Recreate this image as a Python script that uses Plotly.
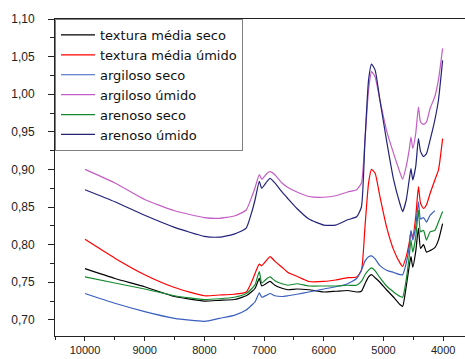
import plotly.graph_objects as go

wavenumber = [10000, 9500, 9000, 8500, 8000, 7750, 7500, 7300, 7200, 7150, 7080, 7040, 6950, 6900, 6820,
              6700, 6600, 6450, 6250, 6000, 5800, 5600, 5450, 5370, 5310, 5250, 5200, 5140, 5060, 4950,
              4830, 4720, 4680, 4620, 4570, 4540, 4510, 4460, 4415, 4380, 4330, 4280, 4220, 4140, 4080, 4010]

textura_media_seco = [0.768, 0.755, 0.744, 0.731, 0.725, 0.726, 0.727, 0.732, 0.738, 0.742, 0.755, 0.745, 0.749, 0.751, 0.746,
                      0.742, 0.740, 0.741, 0.740, 0.737, 0.738, 0.739, 0.737, 0.738, 0.748, 0.757, 0.760, 0.756, 0.750, 0.740,
                      0.730, 0.720, 0.718, 0.744, 0.771, 0.784, 0.770, 0.791, 0.822, 0.795, 0.800, 0.790, 0.792, 0.796, 0.806, 0.828]

textura_media_umido = [0.807, 0.782, 0.760, 0.743, 0.732, 0.733, 0.734, 0.737, 0.752, 0.762, 0.774, 0.772, 0.780, 0.784, 0.778,
                       0.770, 0.763, 0.758, 0.751, 0.751, 0.753, 0.756, 0.757, 0.766, 0.824, 0.882, 0.900, 0.895, 0.864, 0.824,
                       0.793, 0.775, 0.771, 0.784, 0.802, 0.817, 0.810, 0.837, 0.877, 0.855, 0.848, 0.853, 0.868, 0.886, 0.899, 0.941]

argiloso_seco = [0.735, 0.722, 0.711, 0.702, 0.698, 0.702, 0.706, 0.713, 0.720, 0.724, 0.736, 0.730, 0.733, 0.735, 0.732,
                 0.731, 0.732, 0.734, 0.737, 0.741, 0.744, 0.748, 0.755, 0.766, 0.778, 0.784, 0.785, 0.781, 0.772, 0.766,
                 0.763, 0.760, 0.760, 0.775, 0.797, 0.819, 0.806, 0.824, 0.857, 0.834, 0.836, 0.830, 0.839, 0.845, None, None]

argiloso_umido = [0.900, 0.882, 0.860, 0.845, 0.836, 0.835, 0.838, 0.846, 0.865, 0.876, 0.893, 0.887, 0.895, 0.897, 0.893,
                  0.882, 0.876, 0.870, 0.864, 0.863, 0.865, 0.870, 0.873, 0.882, 0.939, 1.006, 1.030, 1.023, 0.992, 0.952,
                  0.921, 0.895, 0.887, 0.904, 0.926, 0.943, 0.928, 0.948, 0.983, 0.963, 0.960, 0.963, 0.981, 0.997, 1.019, 1.061]

arenoso_seco = [0.757, 0.749, 0.741, 0.732, 0.727, 0.728, 0.730, 0.735, 0.742, 0.747, 0.764, 0.749, 0.755, 0.757, 0.752,
                0.748, 0.746, 0.748, 0.745, 0.745, 0.745, 0.746, 0.746, 0.751, 0.760, 0.766, 0.769, 0.765, 0.756, 0.745,
                0.737, 0.731, 0.730, 0.753, 0.784, 0.806, 0.790, 0.810, 0.846, 0.817, 0.819, 0.806, 0.817, 0.819, 0.830, 0.844]

arenoso_umido = [0.873, 0.857, 0.839, 0.823, 0.811, 0.810, 0.814, 0.822, 0.845, 0.860, 0.884, 0.875, 0.884, 0.888, 0.882,
                 0.870, 0.861, 0.848, 0.834, 0.826, 0.826, 0.833, 0.837, 0.850, 0.939, 1.019, 1.040, 1.032, 0.992, 0.939,
                 0.886, 0.853, 0.844, 0.859, 0.886, 0.901, 0.886, 0.904, 0.941, 0.924, 0.917, 0.921, 0.939, 0.966, 0.992, 1.045]

series_names = ["textura média seco", "textura média úmido", "argiloso seco",
                "argiloso úmido", "arenoso seco", "arenoso úmido"]
series_values = [textura_media_seco, textura_media_umido, argiloso_seco,
                 argiloso_umido, arenoso_seco, arenoso_umido]
series_colors = ["#000000", "#ff0000", "#3a5fbf", "#c45ec4", "#138a2e", "#23237a"]

x_tickvals = [10000, 9000, 8000, 7000, 6000, 5000, 4000]
x_ticktext = ["10000", "9000", "8000", "7000", "6000", "5000", "4000"]
y_tickvals = [0.70, 0.75, 0.80, 0.85, 0.90, 0.95, 1.00, 1.05, 1.10]
y_ticktext = ["0,70", "0,75", "0,80", "0,85", "0,90", "0,95", "1,00", "1,05", "1,10"]

fig = go.Figure()
for name, vals, col in zip(series_names, series_values, series_colors):
    fig.add_trace(go.Scatter(x=wavenumber, y=vals, name=name, mode="lines",
                             line=dict(color=col, width=1.2, shape="spline", smoothing=0.5),
                             connectgaps=False))

fig.update_layout(
    width=465, height=359,
    margin=dict(l=55, r=0, t=19, b=23),
    paper_bgcolor="white", plot_bgcolor="white",
    font=dict(family="Arial, Liberation Sans, sans-serif", size=12, color="#222222"),
    showlegend=True,
    legend=dict(x=0, y=1, xanchor="left", yanchor="top",
                bgcolor="white", bordercolor="#808080", borderwidth=1,
                font=dict(family="DejaVu Sans, sans-serif", size=13, color="#111111"),
                itemwidth=34, tracegroupgap=0),
)
fig.update_xaxes(range=[10502, 3635], showgrid=False, zeroline=False,
                 showline=True, linecolor="#222222", linewidth=1, mirror=True,
                 ticks="outside", ticklen=4, tickcolor="#222222",
                 tickfont=dict(size=11),
                 tickvals=x_tickvals, ticktext=x_ticktext,
                 minor=dict(dtick=500, ticks="outside", ticklen=3, tickcolor="#222222"))
fig.update_yaxes(range=[0.6785, 1.10], showgrid=False, zeroline=False,
                 showline=True, linecolor="#222222", linewidth=1,
                 ticks="outside", ticklen=6, tickcolor="#222222",
                 tickfont=dict(size=12), ticklabelstandoff=11,
                 tickvals=y_tickvals, ticktext=y_ticktext,
                 minor=dict(dtick=0.025, tick0=0.7, ticks="outside", ticklen=4, tickcolor="#222222"))

fig.write_html("out.html", config={"displayModeBar": False},
               post_script=["document.body.style.margin='0px';document.body.style.overflow='hidden';"])
